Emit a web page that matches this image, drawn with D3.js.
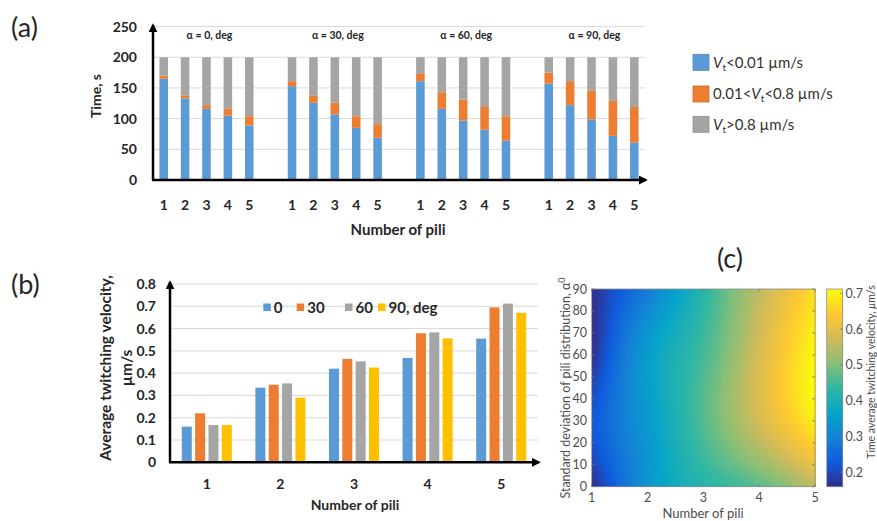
<!DOCTYPE html>
<html>
<head>
<meta charset="utf-8">
<script src="https://cdn.jsdelivr.net/npm/d3@7"></script>
<style>
  body { margin: 0; background: #fff; }
  svg { display: block; font-family: Lato, "Open Sans", sans-serif; }
</style>
</head>
<body>
<div id="chart"></div>
<script>
var width = 877,
    height = 521;

// shared categories
var piliLabels = [1, 2, 3, 4, 5];
var alphaGroups = [0, 30, 60, 90];

// (a) time spent in each velocity range, s (alpha 0: pili 1..5, alpha 30: ..., etc.)
var timeSlow = [165, 133, 116, 105, 89, 153, 126, 107, 85, 69, 161, 116, 97, 82, 64, 157, 122, 99, 72, 61];
var timeMid = [5, 5, 6, 11, 15, 8, 12, 19, 19, 22, 12, 27, 34, 37, 40, 18, 39, 47, 57, 58];
var timeFast = [30, 62, 78, 84, 96, 39, 62, 74, 96, 109, 27, 57, 69, 81, 96, 25, 39, 54, 71, 81];
var timeTicks = [0, 50, 100, 150, 200, 250];

// (b) average twitching velocity, um/s, per alpha, for pili 1..5
var vel0 = [0.16, 0.335, 0.42, 0.468, 0.555];
var vel30 = [0.22, 0.348, 0.464, 0.579, 0.695];
var vel60 = [0.167, 0.354, 0.453, 0.583, 0.712];
var vel90 = [0.167, 0.29, 0.425, 0.556, 0.671];
var velTicks = [0, 0.1, 0.2, 0.3, 0.4, 0.5, 0.6, 0.7, 0.8];

// (c) axis ticks
var alphaTicks = [0, 10, 20, 30, 40, 50, 60, 70, 80, 90];
var cbTicks = [0.2, 0.3, 0.4, 0.5, 0.6, 0.7];
var parula = ["#352a87", "#0f5cdd", "#1481d6", "#06a4ca", "#2eb7a4", "#87bf77", "#d1bb59", "#fec832", "#f9fb0e"];

var colStack = {slow: "#5b9bd5", mid: "#ed7d31", fast: "#a5a5a5"};
var colAlpha = ["#5b9bd5", "#ed7d31", "#a5a5a5", "#ffc000"];
var ink = "#262626";

var svg = d3.select("#chart").append("svg")
    .attr("width", width)
    .attr("height", height);

var defs = svg.append("defs");
defs.append("marker")
    .attr("id", "arr")
    .attr("viewBox", "0 0 10 10")
    .attr("refX", 8)
    .attr("refY", 5)
    .attr("markerWidth", 3.6)
    .attr("markerHeight", 3.6)
    .attr("orient", "auto")
    .append("path")
    .attr("d", "M0,0L10,5L0,10z")
    .attr("fill", "#000");

// ================= (a) =================
var slots = [];
alphaGroups.forEach(function(a, gi) {
    if (gi > 0) slots.push("gap" + gi);
    piliLabels.forEach(function(p) { slots.push(a + "-" + p); });
});

var rowsA = timeSlow.map(function(v, i) {
    return {
        key: alphaGroups[Math.floor(i / 5)] + "-" + piliLabels[i % 5],
        pili: piliLabels[i % 5],
        slow: v, mid: timeMid[i], fast: timeFast[i]
    };
});

var xA = d3.scaleBand().domain(slots).range([153, 645]).paddingInner(0.6).paddingOuter(0.3);
var yA = d3.scaleLinear().domain([0, 250]).range([180, 26.6]);

var gA = svg.append("g");

gA.selectAll("line.grid")
    .data(timeTicks.slice(1)).enter()
    .append("line")
    .attr("x1", 153).attr("x2", 645)
    .attr("y1", function(d) { return yA(d); })
    .attr("y2", function(d) { return yA(d); })
    .attr("stroke", "#d9d9d9").attr("stroke-width", 1);

var stackA = d3.stack().keys(["slow", "mid", "fast"])(rowsA);
gA.selectAll("g.layer")
    .data(stackA).enter()
    .append("g")
    .attr("fill", function(d) { return colStack[d.key]; })
    .selectAll("rect")
    .data(function(d) { return d; }).enter()
    .append("rect")
    .attr("x", function(d) { return xA(d.data.key); })
    .attr("width", xA.bandwidth())
    .attr("y", function(d) { return yA(d[1]); })
    .attr("height", function(d) { return yA(d[0]) - yA(d[1]); });

gA.append("line")
    .attr("x1", 153).attr("y1", 180).attr("x2", 153).attr("y2", 25)
    .attr("stroke", "#000").attr("stroke-width", 2.5).attr("marker-end", "url(#arr)");
gA.append("line")
    .attr("x1", 152).attr("y1", 180).attr("x2", 646).attr("y2", 180)
    .attr("stroke", "#000").attr("stroke-width", 2.5).attr("marker-end", "url(#arr)");

gA.selectAll("text.ytick")
    .data(timeTicks).enter()
    .append("text")
    .attr("x", 137)
    .attr("y", function(d) { return yA(d); })
    .attr("dy", "0.36em")
    .attr("text-anchor", "end")
    .attr("font-size", 14).attr("font-weight", "bold").attr("fill", ink)
    .text(function(d) { return d; });

gA.selectAll("text.xtick")
    .data(rowsA).enter()
    .append("text")
    .attr("x", function(d) { return xA(d.key) + xA.bandwidth() / 2; })
    .attr("y", 205)
    .attr("dy", "0.36em")
    .attr("text-anchor", "middle")
    .attr("font-size", 14).attr("font-weight", "bold").attr("fill", ink)
    .text(function(d) { return d.pili; });

gA.selectAll("text.group")
    .data(alphaGroups).enter()
    .append("text")
    .attr("x", function(a) {
        return (xA(a + "-1") + xA(a + "-5") + xA.bandwidth()) / 2 + 3;
    })
    .attr("y", 35)
    .attr("dy", "0.36em")
    .attr("text-anchor", "middle")
    .attr("font-size", 10.5).attr("font-weight", "bold").attr("fill", ink)
    .text(function(a) { return "\u03b1 = " + a + ", deg"; });

gA.append("text")
    .attr("x", 398).attr("y", 230).attr("dy", "0.36em")
    .attr("text-anchor", "middle")
    .attr("font-size", 15).attr("font-weight", "bold").attr("fill", ink)
    .text("Number of pili");

gA.append("text")
    .attr("transform", "translate(96,96) rotate(-90)")
    .attr("text-anchor", "middle").attr("dy", "0.36em")
    .attr("font-size", 14).attr("font-weight", "bold").attr("fill", ink)
    .text("Time, s");

svg.append("text")
    .attr("x", 11).attr("y", 37)
    .attr("font-size", 27).attr("fill", ink)
    .text("(a)");

// legend (a)
var legA = [
    {key: "slow", pre: "", post: "<0.01 \u00b5m/s"},
    {key: "mid", pre: "0.01<", post: "<0.8 \u00b5m/s"},
    {key: "fast", pre: "", post: ">0.8 \u00b5m/s"}
];
var legAy = [62.3, 94, 124.3];
var lg = svg.append("g").selectAll("g")
    .data(legA).enter()
    .append("g")
    .attr("transform", function(d, i) { return "translate(693," + legAy[i] + ")"; });
lg.append("rect")
    .attr("x", 0).attr("y", -8).attr("width", 16).attr("height", 16)
    .attr("fill", function(d) { return colStack[d.key]; })
    .attr("stroke", function(d) { return d3.color(colStack[d.key]).darker(0.4); })
    .attr("stroke-width", 0.8);
var lt = lg.append("text")
    .attr("x", 20).attr("y", 0).attr("dy", "0.36em")
    .attr("font-size", 15).attr("fill", "#333");
lt.append("tspan").text(function(d) { return d.pre; });
lt.append("tspan").attr("font-style", "italic").text("V");
lt.append("tspan").attr("font-size", 10).attr("dy", 3).text("t");
lt.append("tspan").attr("dy", -3).text(function(d) { return d.post; });

// ================= (b) =================
var velSeries = [vel0, vel30, vel60, vel90];
var rowsB = piliLabels.map(function(p, i) {
    return {pili: p, vals: velSeries.map(function(s, k) { return {alpha: alphaGroups[k], k: k, v: s[i]}; })};
});

var xB = d3.scaleBand().domain(piliLabels).range([170, 538]).paddingInner(0.32).paddingOuter(0.16);
var xB2 = d3.scaleBand().domain(alphaGroups).range([0, xB.bandwidth()]).paddingInner(0.25);
var yB = d3.scaleLinear().domain([0, 0.8]).range([462.3, 284]);

var gB = svg.append("g");

gB.selectAll("line.grid")
    .data(velTicks.slice(1)).enter()
    .append("line")
    .attr("x1", 170).attr("x2", 538)
    .attr("y1", function(d) { return yB(d); })
    .attr("y2", function(d) { return yB(d); })
    .attr("stroke", "#d9d9d9").attr("stroke-width", 1);

gB.selectAll("g.grp")
    .data(rowsB).enter()
    .append("g")
    .attr("transform", function(d) { return "translate(" + xB(d.pili) + ",0)"; })
    .selectAll("rect")
    .data(function(d) { return d.vals; }).enter()
    .append("rect")
    .attr("x", function(d) { return xB2(d.alpha); })
    .attr("width", xB2.bandwidth())
    .attr("y", function(d) { return yB(d.v); })
    .attr("height", function(d) { return yB(0) - yB(d.v); })
    .attr("fill", function(d) { return colAlpha[d.k]; });

gB.append("line")
    .attr("x1", 170).attr("y1", 462.3).attr("x2", 170).attr("y2", 282)
    .attr("stroke", "#000").attr("stroke-width", 2.5).attr("marker-end", "url(#arr)");
gB.append("line")
    .attr("x1", 169).attr("y1", 462.3).attr("x2", 539).attr("y2", 462.3)
    .attr("stroke", "#000").attr("stroke-width", 2.5).attr("marker-end", "url(#arr)");

gB.selectAll("text.ytick")
    .data(velTicks).enter()
    .append("text")
    .attr("x", 156)
    .attr("y", function(d) { return yB(d); })
    .attr("dy", "0.36em")
    .attr("text-anchor", "end")
    .attr("font-size", 14).attr("font-weight", "bold").attr("fill", ink)
    .text(function(d) { return d === 0 ? "0" : d3.format(".1f")(d); });

gB.selectAll("text.xtick")
    .data(piliLabels).enter()
    .append("text")
    .attr("x", function(d) { return xB(d) + xB.bandwidth() / 2; })
    .attr("y", 484)
    .attr("dy", "0.36em")
    .attr("text-anchor", "middle")
    .attr("font-size", 14).attr("font-weight", "bold").attr("fill", ink)
    .text(function(d) { return d; });

gB.append("text")
    .attr("x", 355).attr("y", 505).attr("dy", "0.36em")
    .attr("text-anchor", "middle")
    .attr("font-size", 14).attr("font-weight", "bold").attr("fill", ink)
    .text("Number of pili");

var yTitleB = gB.append("text")
    .attr("transform", "translate(105,368) rotate(-90)")
    .attr("text-anchor", "middle")
    .attr("font-size", 15.5).attr("font-weight", "bold").attr("fill", ink);
yTitleB.append("tspan").attr("x", 0).attr("dy", "0.36em").text("Average twitching velocity,");
yTitleB.append("tspan").attr("x", 0).attr("dy", 21).text("\u00b5m/s");

svg.append("text")
    .attr("x", 11).attr("y", 294)
    .attr("font-size", 27).attr("fill", ink)
    .text("(b)");

// legend (b)
var legBx = [263.3, 296.7, 345, 378];
var legBLabels = ["0", "30", "60", "90, deg"];
var lgB = gB.selectAll("g.leg")
    .data(alphaGroups).enter()
    .append("g")
    .attr("transform", function(d, i) { return "translate(" + legBx[i] + ",307.5)"; });
lgB.append("rect")
    .attr("x", 0).attr("y", -4).attr("width", 7.5).attr("height", 7.5)
    .attr("fill", function(d, i) { return colAlpha[i]; });
lgB.append("text")
    .attr("x", 10.5).attr("dy", "0.36em")
    .attr("font-size", 15).attr("font-weight", "bold").attr("fill", ink)
    .text(function(d, i) { return legBLabels[i]; });

// ================= (c) =================
function naturalSpline(xs, ys) {
    var n = xs.length - 1, h = [], al = [], l = [1], mu = [0], z = [0],
        c = new Array(n + 1).fill(0), b = [], d = [], i;
    for (i = 0; i < n; i++) h[i] = xs[i + 1] - xs[i];
    for (i = 1; i < n; i++) al[i] = 3 / h[i] * (ys[i + 1] - ys[i]) - 3 / h[i - 1] * (ys[i] - ys[i - 1]);
    for (i = 1; i < n; i++) {
        l[i] = 2 * (xs[i + 1] - xs[i - 1]) - h[i - 1] * mu[i - 1];
        mu[i] = h[i] / l[i];
        z[i] = (al[i] - h[i - 1] * z[i - 1]) / l[i];
    }
    for (var j = n - 1; j >= 0; j--) {
        c[j] = z[j] - mu[j] * c[j + 1];
        b[j] = (ys[j + 1] - ys[j]) / h[j] - h[j] * (c[j + 1] + 2 * c[j]) / 3;
        d[j] = (c[j + 1] - c[j]) / (3 * h[j]);
    }
    return function(t) {
        var k = Math.min(n - 1, Math.max(0, d3.bisectRight(xs, t) - 1));
        var dx = t - xs[k];
        return ys[k] + b[k] * dx + c[k] * dx * dx + d[k] * dx * dx * dx;
    };
}

var xC = d3.scaleLinear().domain([1, 5]).range([591.7, 815]);
var yC = d3.scaleLinear().domain([0, 90]).range([486.7, 289]);
var vExt = d3.extent(d3.merge(velSeries));
var colorC = d3.scaleLinear()
    .domain(parula.map(function(c, i) { return vExt[0] + i * (vExt[1] - vExt[0]) / (parula.length - 1); }))
    .range(parula)
    .interpolate(d3.interpolateRgb)
    .clamp(true);

// interpolated surface (like shading interp) through the (b) values
var rowSplines = velSeries.map(function(s) { return naturalSpline(piliLabels, s); });
var nx = 112, ny = 100;
var cells = [];
var dxC = 4 / nx, dyC = 90 / ny;
for (var ix = 0; ix < nx; ix++) {
    var xv = 1 + (ix + 0.5) * dxC;
    var colSpline = naturalSpline(alphaGroups, rowSplines.map(function(f) { return f(xv); }));
    for (var iy = 0; iy < ny; iy++) {
        var yv = (iy + 0.5) * dyC;
        cells.push({x: xv, y: yv, v: colSpline(yv)});
    }
}

var gC = svg.append("g");
gC.append("g").attr("shape-rendering", "crispEdges")
    .selectAll("rect")
    .data(cells).enter()
    .append("rect")
    .attr("x", function(d) { return xC(d.x - dxC / 2); })
    .attr("y", function(d) { return yC(d.y + dyC / 2); })
    .attr("width", xC(1 + dxC) - xC(1) + 0.6)
    .attr("height", yC(0) - yC(dyC) + 0.6)
    .attr("fill", function(d) { return colorC(d.v); });

gC.append("rect")
    .attr("x", 591.7).attr("y", 289).attr("width", 815 - 591.7).attr("height", 486.7 - 289)
    .attr("fill", "none").attr("stroke", "#8c8c8c").attr("stroke-width", 0.8);

// ticks on all sides
gC.selectAll("line.yt")
    .data(alphaTicks).enter()
    .append("g")
    .each(function(d) {
        d3.select(this).append("line")
            .attr("x1", 591.7).attr("x2", 594.5).attr("y1", yC(d)).attr("y2", yC(d));
        d3.select(this).append("line")
            .attr("x1", 815).attr("x2", 812.2).attr("y1", yC(d)).attr("y2", yC(d));
    })
    .attr("stroke", "#777").attr("stroke-width", 0.8);
gC.selectAll("line.xt")
    .data(piliLabels).enter()
    .append("g")
    .each(function(d) {
        d3.select(this).append("line")
            .attr("x1", xC(d)).attr("x2", xC(d)).attr("y1", 486.7).attr("y2", 483.9);
        d3.select(this).append("line")
            .attr("x1", xC(d)).attr("x2", xC(d)).attr("y1", 289).attr("y2", 291.8);
    })
    .attr("stroke", "#777").attr("stroke-width", 0.8);

var grayInk = "#4d4d4d";
gC.selectAll("text.yt")
    .data(alphaTicks).enter()
    .append("text")
    .attr("x", 587).attr("y", function(d) { return yC(d); })
    .attr("dy", "0.36em").attr("text-anchor", "end")
    .attr("font-size", 12.5).attr("fill", grayInk)
    .text(function(d) { return d; });
gC.selectAll("text.xt")
    .data(piliLabels).enter()
    .append("text")
    .attr("x", function(d) { return xC(d); }).attr("y", 497.5)
    .attr("dy", "0.36em").attr("text-anchor", "middle")
    .attr("font-size", 12.5).attr("fill", grayInk)
    .text(function(d) { return d; });

gC.append("text")
    .attr("x", 703).attr("y", 513.5).attr("dy", "0.36em")
    .attr("text-anchor", "middle")
    .attr("font-size", 13).attr("fill", grayInk)
    .text("Number of pili");

var yTitleC = gC.append("text")
    .attr("transform", "translate(565.5,388) rotate(-90)")
    .attr("text-anchor", "middle").attr("dy", "0.36em")
    .attr("font-size", 12.5).attr("fill", grayInk);
yTitleC.append("tspan").text("Standard deviation of pili distribution, \u03b1");
yTitleC.append("tspan").attr("dy", -5).attr("font-size", 9).text("0");

svg.append("text")
    .attr("x", 730).attr("y", 268).attr("text-anchor", "middle")
    .attr("font-size", 27).attr("fill", ink)
    .text("(c)");

// colorbar
var yCb = d3.scaleLinear().domain(vExt).range([486.7, 289]);
var cbSteps = d3.range(120).map(function(i) { return vExt[0] + (i + 0.5) * (vExt[1] - vExt[0]) / 120; });
var cbH = (486.7 - 289) / 120;
gC.append("g").attr("shape-rendering", "crispEdges")
    .selectAll("rect")
    .data(cbSteps).enter()
    .append("rect")
    .attr("x", 826.7).attr("width", 16)
    .attr("y", function(d) { return yCb(d) - cbH / 2; })
    .attr("height", cbH + 0.6)
    .attr("fill", function(d) { return colorC(d); });
gC.append("rect")
    .attr("x", 826.7).attr("y", 289).attr("width", 16).attr("height", 486.7 - 289)
    .attr("fill", "none").attr("stroke", "#8c8c8c").attr("stroke-width", 0.8);
gC.selectAll("line.cbt")
    .data(cbTicks).enter()
    .append("line")
    .attr("x1", 842.7).attr("x2", 840).attr("y1", function(d) { return yCb(d); }).attr("y2", function(d) { return yCb(d); })
    .attr("stroke", "#777").attr("stroke-width", 0.8);
gC.selectAll("text.cbt")
    .data(cbTicks).enter()
    .append("text")
    .attr("x", 845.5).attr("y", function(d) { return yCb(d); })
    .attr("dy", "0.36em")
    .attr("font-size", 12.5).attr("fill", grayInk)
    .text(function(d) { return d3.format(".1f")(d); });

var cbTitle = gC.append("text")
    .attr("transform", "translate(871.5,372) rotate(-90)")
    .attr("text-anchor", "middle").attr("dy", "0.36em")
    .attr("font-size", 10.5).attr("fill", grayInk);
cbTitle.append("tspan").text("Time average twitching velocity, ");
cbTitle.append("tspan").attr("font-style", "italic").text("\u03bc");
cbTitle.append("tspan").text("m/s");
</script>
</body>
</html>
